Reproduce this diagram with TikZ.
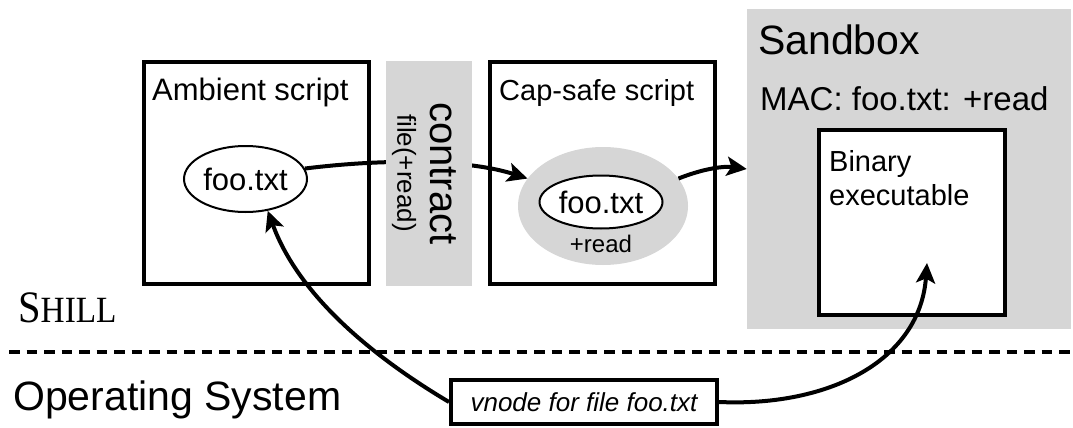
\documentclass[tikz,border=0pt]{standalone}
\usepackage{fontspec}
\usepackage{graphicx}
\setmainfont{Liberation Sans}
\newfontfamily\serifsc{Liberation Serif}
\usetikzlibrary{arrows.meta, positioning, shapes}
\definecolor{sandgray}{gray}{0.84}
\newcommand{\fs}[1]{\fontsize{#1}{#1}\selectfont}
\tikzset{
  box/.style={draw, line width=4pt, inner sep=0pt},
  file/.style={draw, ellipse, line width=2pt, fill=white, inner sep=0pt, font=\fs{31}},
  title/.style={anchor=base west, inner sep=0pt},
  flow/.style={line width=4pt, -{Stealth[length=20pt, width=19pt, inset=4.5pt]}},
}

\begin{document}
\begin{tikzpicture}[x=1pt, y=-1pt]
\useasboundingbox (0,0) rectangle (1073,428);

% sandbox with the binary inside
\node[fill=sandgray, inner sep=0pt, minimum width=324pt, minimum height=320pt] (sandbox) at (909,169) {};
\node[box, fill=white, minimum width=186pt, minimum height=185pt] (binary) at (912,222.5) {};
\node[title, font=\fs{41}] (sandtitle) at (758,55) {Sandbox};
\node[title, font=\fs{33}] (mac) at (760,110) {MAC: foo.txt: +read};
\node[anchor=north west, align=left, inner sep=0pt, font=\fontsize{29}{34}\selectfont] (binlabel) at (829,150) {Binary\\executable};

% the two scripts
\node[box, minimum width=225pt, minimum height=222pt] (ambient) at (256.5,173) {};
\node[title, font=\fs{31}] (ambtitle) at (152,100) {Ambient script};
\node[file, minimum width=123pt, minimum height=66pt] (ambfile) at (245.5,179) {foo.txt};

\node[box, minimum width=225pt, minimum height=222pt] (capsafe) at (602.5,173) {};
\node[title, font=\fs{29}] (captitle) at (499,100) {Cap-safe script};
\node[ellipse, fill=sandgray, inner sep=0pt, minimum width=170pt, minimum height=118pt] (capring) at (603,206) {};
\node[file, minimum width=123pt, minimum height=53pt] (capfile) at (601,202) {foo.txt};
\node[anchor=base, inner sep=0pt, font=\fs{24}] (capperm) at (601,252) {+read};

% file passes through the contract
\draw[flow] (ambfile.10) .. controls (390,158) and (470,160) .. (capring.160);
\node[fill=sandgray, inner sep=0pt, minimum width=86pt, minimum height=225pt] (contract) at (429,173.5) {};
\node[rotate=-90, inner sep=0pt, font=\fs{40}] (contractlbl) at (443,173.5) {contract};
\node[rotate=-90, inner sep=0pt, font=\fs{26}] (contractarg) at (404,173) {file(+read)};

\draw[flow] (capring.20) .. controls (705,168) and (725,166) .. (sandbox.west);

% language / OS boundary
\draw[line width=4.5pt, dash pattern=on 10.5pt off 7pt] (9,352) -- (1073,352);
\node[title] (shill) at (18,322) {\serifsc\scalebox{0.9}[1]{\fs{45}S\fs{37}HILL}};
\node[title, font=\fs{41}] (os) at (13,410) {Operating System};

\node[draw, line width=4pt, inner sep=0pt, minimum width=266pt, minimum height=44pt, font=\fs{26}\itshape] (vnode) at (584,402) {vnode for file foo.txt};

\coordinate (bintip) at (927,263);
\draw[flow] (vnode.west) .. controls (370,355) and (298,294) .. (ambfile.-55);
\draw[flow] (vnode.east) .. controls (830,407) and (920,360) .. (bintip);
\end{tikzpicture}
\end{document}
